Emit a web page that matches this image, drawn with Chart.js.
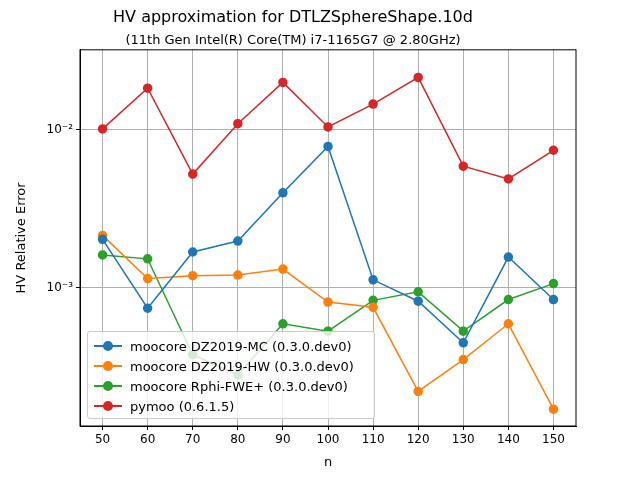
<!DOCTYPE html>
<html><head><meta charset="utf-8">
<script src="https://cdn.jsdelivr.net/npm/chart.js@4/dist/chart.umd.min.js"></script>
<style>
body{margin:0;background:#fff;font-family:"DejaVu Sans",sans-serif}
#wrap{position:relative;width:640px;height:480px}
#legend{position:absolute;left:87px;top:331px;width:288px;height:88px;border:1px solid #ccc;border-radius:3px;background:rgba(255,255,255,0.8);font-size:13px;box-sizing:border-box;padding:4px 6px}
#legend div{height:20px;display:flex;align-items:center}
#legend span.m{position:relative;width:28px;height:12px;margin-right:8px}
#legend span.m:before{content:"";position:absolute;left:0;right:0;top:5px;height:2px;background:var(--c)}
#legend span.m:after{content:"";position:absolute;left:9px;top:1px;width:10px;height:10px;border-radius:50%;background:var(--c)}
</style></head>
<body><div id="wrap"><canvas id="c" width="640" height="480"></canvas><div id="legend"></div></div>
<script>
var ns = [50, 60, 70, 80, 90, 100, 110, 120, 130, 140, 150];
var mcErr = [0.00202, 0.00074, 0.00168, 0.00197, 0.00398, 0.00783, 0.00112, 0.00082, 0.000447, 0.00156, 0.00084];
var hwErr = [0.00214, 0.00114, 0.00119, 0.0012, 0.00131, 0.00081, 0.00075, 0.00022, 0.00035, 0.00059, 0.00017];
var fweErr = [0.00161, 0.00152, 0.000376, 0.00028, 0.00059, 0.00053, 0.00083, 0.00094, 0.00053, 0.00084, 0.00106];
var pymooErr = [0.0101, 0.0183, 0.00523, 0.0109, 0.0199, 0.0104, 0.0145, 0.0214, 0.00587, 0.00487, 0.0074];
var names = ["moocore DZ2019-MC (0.3.0.dev0)", "moocore DZ2019-HW (0.3.0.dev0)", "moocore Rphi-FWE+ (0.3.0.dev0)", "pymoo (0.6.1.5)"];
var colors = ["#1f77b4", "#ff7f0e", "#2ca02c", "#d62728"];
var yTicks = [1e-3, 1e-2];

function series(vals, i) {
  return {
    label: names[i],
    data: vals.map(function (v, k) { return {x: ns[k], y: v}; }),
    borderColor: colors[i], backgroundColor: colors[i],
    borderWidth: 1.5, pointRadius: 4, pointHoverRadius: 4
  };
}

// full box around the plot area
var frame = {
  id: "frame",
  afterDraw: function (chart) {
    var a = chart.chartArea, ctx = chart.ctx;
    ctx.save();
    ctx.strokeStyle = "#000"; ctx.lineWidth = 1;
    ctx.strokeRect(a.left, a.top, a.right - a.left, a.bottom - a.top);
    ctx.restore();
  }
};

var sup = {"-": "⁻", "2": "²", "3": "³"};
new Chart(document.getElementById("c"), {
  type: "line",
  data: {datasets: [series(mcErr, 0), series(hwErr, 1), series(fweErr, 2), series(pymooErr, 3)]},
  plugins: [frame],
  options: {
    responsive: false, animation: false,
    layout: {padding: {left: 10, right: 64, top: 0, bottom: 6}},
    plugins: {
      legend: {display: false},
      title: {display: true, text: "HV approximation for DTLZSphereShape.10d", color: "#000",
        font: {size: 16, weight: "normal", family: "DejaVu Sans"}, padding: {top: 8, bottom: 4}},
      subtitle: {display: true, text: "(11th Gen Intel(R) Core(TM) i7-1165G7 @ 2.80GHz)", color: "#000",
        font: {size: 13, family: "DejaVu Sans"}, padding: {top: 2, bottom: 1}}
    },
    scales: {
      x: {type: "linear", min: 45, max: 155,
        afterBuildTicks: function (a) { a.ticks = ns.map(function (v) { return {value: v}; }); },
        ticks: {color: "#000", font: {size: 12, family: "DejaVu Sans"}},
        grid: {color: "#b0b0b0", tickColor: "#000", tickLength: 4},
        border: {color: "#000"},
        title: {display: true, text: "n", color: "#000", font: {size: 13, family: "DejaVu Sans"}}},
      y: {type: "logarithmic", min: 0.000133, max: 0.032,
        afterBuildTicks: function (a) { a.ticks = yTicks.map(function (v) { return {value: v}; }); },
        afterFit: function (a) { a.width = 70; },
        ticks: {color: "#000", font: {size: 12, family: "DejaVu Sans"},
          callback: function (v) { var e = String(Math.round(Math.log10(v))); return "10" + e.split("").map(function (c) { return sup[c]; }).join(""); }},
        grid: {color: "#b0b0b0", tickColor: "#000", tickLength: 4},
        border: {color: "#000"},
        title: {display: true, text: "HV Relative Error", color: "#000", font: {size: 13, family: "DejaVu Sans"}}}
    }
  }
});

var lg = document.getElementById("legend");
names.forEach(function (n, i) {
  var d = document.createElement("div");
  d.innerHTML = '<span class="m" style="--c:' + colors[i] + '"></span>' + n;
  lg.appendChild(d);
});
</script></body></html>
